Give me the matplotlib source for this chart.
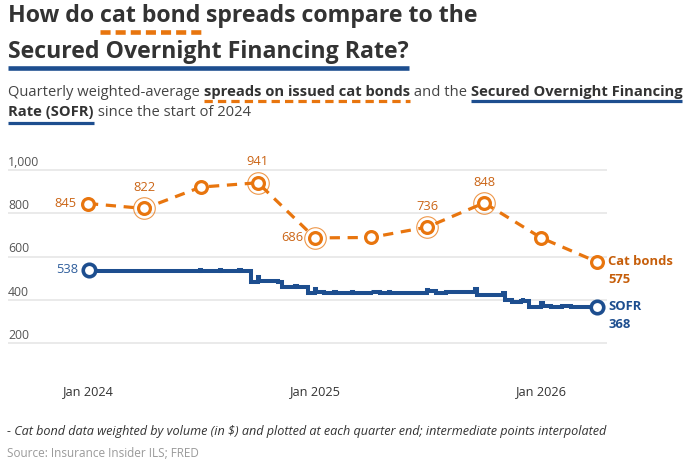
import matplotlib
matplotlib.use('Agg')
import matplotlib.pyplot as plt
from matplotlib.lines import Line2D
from matplotlib.transforms import blended_transform_factory
import pandas as pd

# quarter-end weighted-average cat bond spreads (bps)
cat_dates = ['2023-12-31', '2024-03-31', '2024-06-30', '2024-09-30', '2024-12-31',
             '2025-03-31', '2025-06-30', '2025-09-30', '2025-12-31', '2026-03-31']
cat_spreads = [845, 822, 921, 941, 686, 688, 736, 848, 686, 575]

# SOFR (bps) at each visible change
sofr_dates = ['2024-01-02', '2024-01-03', '2024-01-31', '2024-02-01', '2024-02-29',
              '2024-03-01', '2024-03-28', '2024-04-01', '2024-04-30', '2024-05-01',
              '2024-05-31', '2024-06-03', '2024-06-28', '2024-07-01', '2024-07-31',
              '2024-08-01', '2024-08-30', '2024-09-03', '2024-09-19', '2024-09-30',
              '2024-10-01', '2024-10-31', '2024-11-01', '2024-11-08', '2024-11-29',
              '2024-12-02', '2024-12-19', '2024-12-31', '2025-01-02', '2025-01-15',
              '2025-01-31', '2025-02-03', '2025-02-28', '2025-03-03', '2025-03-31',
              '2025-04-01', '2025-04-15', '2025-04-30', '2025-05-01', '2025-05-30',
              '2025-06-02', '2025-06-30', '2025-07-01', '2025-07-15', '2025-07-31',
              '2025-08-01', '2025-08-29', '2025-09-02', '2025-09-15', '2025-09-18',
              '2025-10-01', '2025-10-15', '2025-10-31', '2025-11-03', '2025-11-14',
              '2025-11-28', '2025-12-01', '2025-12-02', '2025-12-11', '2025-12-31',
              '2026-01-02', '2026-01-15', '2026-02-02', '2026-02-17', '2026-03-02',
              '2026-03-16', '2026-03-31']
sofr_values = [538, 533, 535, 531, 533,
               531, 534, 532, 535, 531,
               534, 533, 537, 534, 536,
               534, 536, 533, 483, 507,
               485, 487, 484, 460, 462,
               459, 430, 448, 436, 430,
               434, 432, 436, 431, 441,
               436, 430, 437, 433, 432,
               430, 445, 439, 433, 436,
               435, 437, 434, 449, 420,
               424, 421, 431, 398, 391,
               394, 407, 396, 368, 384,
               370, 366, 369, 366, 368,
               365, 368]

yticks = [200, 400, 600, 800, 1000]
xtick_dates = ['2024-01-01', '2025-01-01', '2026-01-01']
xtick_labels = ['Jan 2024', 'Jan 2025', 'Jan 2026']

ORANGE = '#E8750E'
ORANGE_TXT = '#CB6516'
ORANGE_DARK = '#C65E0A'
BLUE = '#1D4E8F'
BLUE_TXT = '#2F5E9C'
DARK = '#333333'

plt.rcParams['font.family'] = ['Open Sans', 'DejaVu Sans']

W, H = 700, 471
fig = plt.figure(figsize=(7, 4.71), dpi=100)
renderer = fig.canvas.get_renderer()


def fx(px):
    return px / W


def fy(py):
    return 1 - py / H


def hline(x0, x1, y, color, lw, ls='-'):
    fig.add_artist(Line2D([fx(x0), fx(x1)], [fy(y), fy(y)], transform=fig.transFigure,
                          color=color, lw=lw, ls=ls, solid_capstyle='butt',
                          dash_capstyle='butt'))


def write_runs(runs, x, y, size, offset):
    # runs: (text, weight, color, underline) placed one after another
    for text, weight, color, deco in runs:
        t = fig.text(fx(x), fy(y), text, fontsize=size, fontweight=weight,
                     color=color, ha='left', va='baseline')
        bb = t.get_window_extent(renderer)
        if deco is not None:
            dcolor, dlw, dls = deco
            hline(bb.x0, bb.x1, y + offset, dcolor, dlw, dls)
        x = bb.x1


# title
write_runs([('How do ', 'bold', DARK, None),
            ('cat bond', 'bold', DARK, (ORANGE, 3.3, (0, (2.2, 1.1)))),
            (' spreads compare to the', 'bold', DARK, None)],
           8, 22, 16.7, 10)
write_runs([('Secured Overnight Financing Rate?', 'bold', DARK, (BLUE, 3.3, '-'))],
           8, 58, 16.7, 10)

# subtitle
write_runs([('Quarterly weighted-average ', 'normal', '#444444', None),
            ('spreads on issued cat bonds', 'bold', DARK, (ORANGE, 2.3, (0, (2.6, 1.6)))),
            (' and the ', 'normal', '#444444', None),
            ('Secured Overnight Financing', 'bold', DARK, (BLUE, 2.3, '-'))],
           8, 96, 10.6, 5)
write_runs([('Rate (SOFR)', 'bold', DARK, (BLUE, 2.3, '-')),
            (' since the start of 2024', 'normal', '#444444', None)],
           8, 116, 10.6, 7)

# chart
ax = fig.add_axes([fx(8), fy(360), fx(607) - fx(8), (360 - 150) / H])

cat_x = pd.to_datetime(cat_dates)
sofr_x = pd.to_datetime(sofr_dates)

ax.plot(sofr_x, sofr_values, color=BLUE, lw=2.9, drawstyle='steps-post',
        solid_joinstyle='miter', zorder=3)
ax.plot(sofr_x[[0, -1]], [sofr_values[0], sofr_values[-1]], 'o', ms=9,
        mfc='white', mec=BLUE, mew=2.6, zorder=4)

ax.plot(cat_x, cat_spreads, color=ORANGE, lw=2.3, ls=(0, (3.2, 2.4)), zorder=3)
ax.plot(cat_x, cat_spreads, 'o', ms=8.5, mfc='white', mec=ORANGE, mew=2.3, zorder=5)
ringed = [1, 3, 4, 6, 7]
ax.plot(cat_x[ringed], [cat_spreads[i] for i in ringed], 'o', ms=15.5,
        mfc='none', mec=ORANGE, mew=0.8, alpha=0.75, zorder=5)

label_pos = {0: 'left', 1: 'above', 3: 'above', 4: 'left', 6: 'above', 7: 'above'}
for i, pos in label_pos.items():
    if pos == 'left':
        off, ha = (-8, 0), 'right'
    else:
        off, ha = (0, 15), 'center'
    ax.annotate(f'{cat_spreads[i]}', (cat_x[i], cat_spreads[i]), xytext=off,
                textcoords='offset points', ha=ha, va='center', fontsize=9.3,
                color=ORANGE_TXT)

ax.annotate(f'{sofr_values[0]}', (sofr_x[0], sofr_values[0]), xytext=(-8, 0),
            textcoords='offset points', ha='right', va='center', fontsize=9.3,
            color=BLUE_TXT)

# end labels
end_style = dict(textcoords='offset points', ha='left', va='center', fontsize=9.4,
                 fontweight='bold', annotation_clip=False)
ax.annotate('Cat bonds', (cat_x[-1], cat_spreads[-1]), xytext=(8, 0),
            color=ORANGE_DARK, **end_style)
ax.annotate(f'{cat_spreads[-1]}', (cat_x[-1], cat_spreads[-1]), xytext=(8, -13),
            color=ORANGE_DARK, **end_style)
ax.annotate('SOFR', (sofr_x[-1], sofr_values[-1]), xytext=(8, 0),
            color=BLUE, **end_style)
ax.annotate(f'{sofr_values[-1]}', (sofr_x[-1], sofr_values[-1]), xytext=(8, -12.5),
            color=BLUE, **end_style)

ax.set_ylim(121.4, 1092.5)
ax.set_xlim(pd.Timestamp('2023-08-24'), pd.Timestamp('2026-04-16'))
ax.set_yticks(yticks)
ax.grid(axis='y', color='#e8e8e8', lw=1.3)
ax.set_axisbelow(True)
ax.tick_params(axis='y', length=0, labelleft=False)
ax.set_xticks(pd.to_datetime(xtick_dates), labels=xtick_labels)
ax.tick_params(axis='x', length=0, pad=18, labelsize=9.2, labelcolor=DARK)
for s in ax.spines.values():
    s.set_visible(False)

ytrans = blended_transform_factory(ax.transAxes, ax.transData)
for v in yticks:
    ax.annotate(f'{v:,}', (0, v), xycoords=ytrans, xytext=(0, 3),
                textcoords='offset points', ha='left', va='baseline',
                fontsize=8.8, color='#555555')

# notes
fig.text(fx(7), fy(435), '- Cat bond data weighted by volume (in $) and plotted at each '
         'quarter end; intermediate points interpolated', fontsize=9.1,
         style='italic', color=DARK, va='baseline')
fig.text(fx(7), fy(457), 'Source: Insurance Insider ILS; FRED', fontsize=8.5,
         color='#9a9a9a', va='baseline')

fig.savefig('out.png', dpi=100)
